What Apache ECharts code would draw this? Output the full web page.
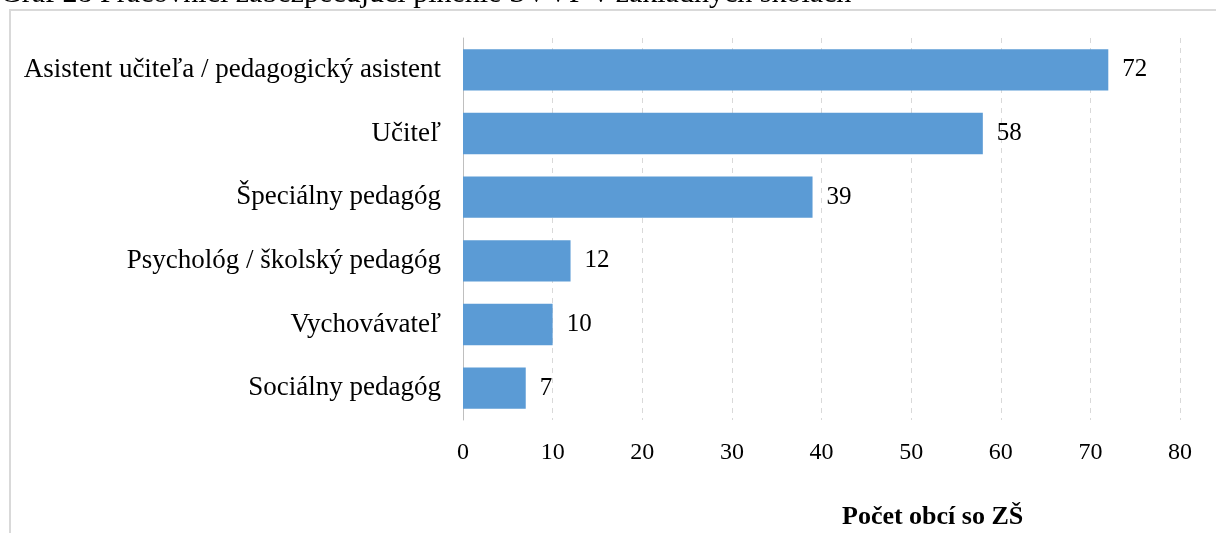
<!DOCTYPE html>
<html lang="sk">
<head>
    <meta charset="UTF-8">
    <title>Graf 28</title>
    <script src="https://cdn.jsdelivr.net/npm/echarts@6/dist/echarts.min.js"></script>
    <style>
        html, body { margin: 0; padding: 0; background: #fff; }
        #main { width: 1216px; height: 533px; }
    </style>
</head>
<body>
<div id="main"></div>
<script type="text/javascript">
    // udaje z grafu
    var categories = ['Asistent učiteľa / pedagogický asistent', 'Učiteľ', 'Špeciálny pedagóg',
        'Psychológ / školský pedagóg', 'Vychovávateľ', 'Sociálny pedagóg'];
    var values = [72, 58, 39, 12, 10, 7];
    var xTicks = [0, 10, 20, 30, 40, 50, 60, 70, 80];

    var font = '"Liberation Serif", "Times New Roman", serif';
    var myChart = echarts.init(document.getElementById('main'));

    var option = {
        backgroundColor: '#fff',
        animation: false,
        title: {
            text: 'Graf 28 Pracovníci zabezpečujúci plnenie ŠVVP v základných školách',
            left: 0,
            top: -21,
            padding: 0,
            textStyle: { fontFamily: font, fontSize: 30, fontWeight: 'normal', color: '#000' }
        },
        graphic: [{
            type: 'polyline',
            shape: { points: [[10, 533], [10, 10], [1216, 10]] },
            style: { stroke: '#d9d9d9', lineWidth: 2, fill: null }
        }, {
            type: 'text',
            left: 842,
            top: 504,
            style: {
                text: 'Počet obcí so ZŠ',
                font: 'bold 26px ' + font,
                fill: '#000'
            }
        }],
        grid: { left: 463, right: 36, top: 38, bottom: 113, containLabel: false },
        xAxis: {
            type: 'value',
            min: xTicks[0],
            max: xTicks[xTicks.length - 1],
            interval: xTicks[1] - xTicks[0],
            axisLine: { show: false },
            axisTick: { show: false },
            axisLabel: { margin: 21, fontFamily: font, fontSize: 24, color: '#000' },
            splitLine: { lineStyle: { color: '#d9d9d9', type: [5, 5], width: 1 } }
        },
        yAxis: {
            type: 'category',
            inverse: true,
            data: categories,
            axisLine: { lineStyle: { color: '#bfbfbf', width: 1 } },
            axisTick: { length: 7, lineStyle: { color: '#bfbfbf' } },
            axisLabel: { margin: 22, fontFamily: font, fontSize: 27, color: '#000' }
        },
        series: [{
            type: 'bar',
            data: values,
            barWidth: '65%',
            itemStyle: { color: '#5b9bd5' },
            label: {
                show: true,
                position: 'right',
                distance: 14,
                fontFamily: font,
                fontSize: 25,
                color: '#000'
            }
        }]
    };

    myChart.setOption(option);
</script>
</body>
</html>
